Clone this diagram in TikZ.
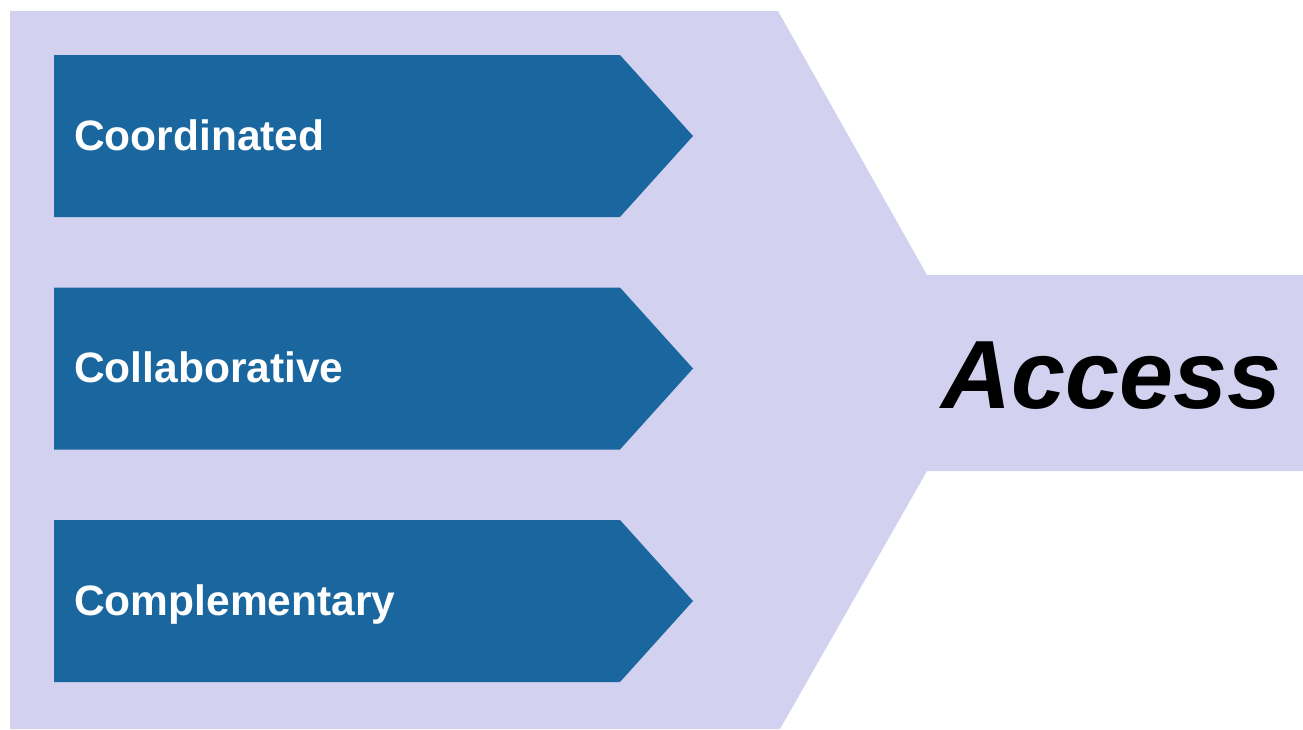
\documentclass[tikz,border=0pt]{standalone}
\usepackage{fontspec}
\setmainfont{Liberation Sans}
\definecolor{lav}{HTML}{D2D2F0}
\definecolor{chev}{HTML}{1A67A0}
\tikzset{
  chevbox/.style={fill=chev, draw=none},
  chevlabel/.style={anchor=base west, inner sep=0pt, text=white, font=\fontsize{42.5}{42.5}\selectfont\bfseries},
}
\begin{document}
\begin{tikzpicture}[x=1pt,y=-1pt]
\useasboundingbox (0,0) rectangle (1303,729);
\fill[lav] (10,11) -- (778,11) -- (927,275) -- (1303,275) -- (1303,471) -- (927,471) -- (780,729) -- (10,729) -- cycle;
\foreach \dy/\name/\txt in {0/c1/Coordinated, 232.5/c2/Collaborative, 465/c3/Complementary}{
  \fill[chevbox] (54,55+\dy) -- (620,55+\dy) -- (693,136+\dy) -- (620,217+\dy) -- (54,217+\dy) -- cycle;
  \node[chevlabel] (\name) at (74,150+\dy) {\txt};
}
\node[anchor=base, inner sep=0pt, font=\fontsize{97}{97}\selectfont\bfseries\itshape] (acc) at (1111.5,408) {Access};
\end{tikzpicture}
\end{document}
